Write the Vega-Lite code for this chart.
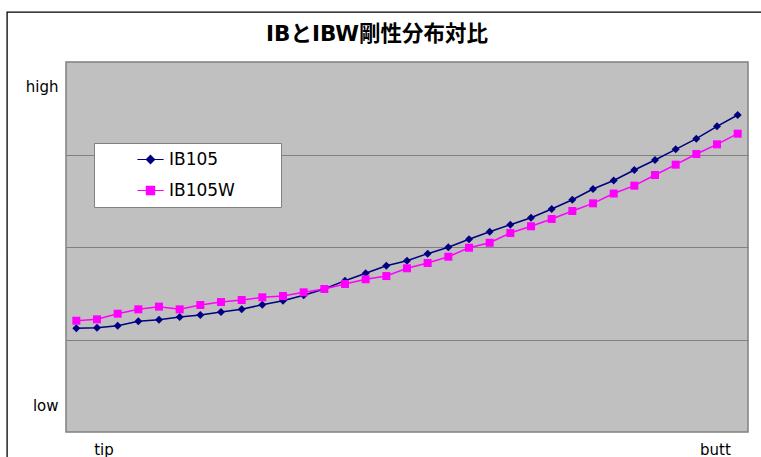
{
  "$schema": "https://vega.github.io/schema/vega-lite/v6.json",
  "width": 682,
  "height": 370,
  "autosize": "none",
  "padding": {"left": 66, "top": 62, "right": 13, "bottom": 25},
  "background": "white",
  "title": {"text": "IBとIBW剛性分布対比", "font": "DejaVu Sans, Noto Sans CJK JP", "fontSize": 21.5, "fontWeight": "bold", "color": "black", "anchor": "middle", "frame": "group", "dx": -30, "offset": -34.5},
  "config": {
    "view": {"fill": "#C0C0C0", "stroke": "#808080", "strokeWidth": 1.5}
  },
  "datasets": {
    "curve": [
      {"i": 0, "series": "IB105", "v": 1.121}, {"i": 1, "series": "IB105", "v": 1.128}, {"i": 2, "series": "IB105", "v": 1.149}, {"i": 3, "series": "IB105", "v": 1.197},
      {"i": 4, "series": "IB105", "v": 1.214}, {"i": 5, "series": "IB105", "v": 1.243}, {"i": 6, "series": "IB105", "v": 1.265}, {"i": 7, "series": "IB105", "v": 1.297},
      {"i": 8, "series": "IB105", "v": 1.326}, {"i": 9, "series": "IB105", "v": 1.376}, {"i": 10, "series": "IB105", "v": 1.419}, {"i": 11, "series": "IB105", "v": 1.478},
      {"i": 12, "series": "IB105", "v": 1.546}, {"i": 13, "series": "IB105", "v": 1.636}, {"i": 14, "series": "IB105", "v": 1.716}, {"i": 15, "series": "IB105", "v": 1.798},
      {"i": 16, "series": "IB105", "v": 1.852}, {"i": 17, "series": "IB105", "v": 1.928}, {"i": 18, "series": "IB105", "v": 1.997}, {"i": 19, "series": "IB105", "v": 2.083},
      {"i": 20, "series": "IB105", "v": 2.165}, {"i": 21, "series": "IB105", "v": 2.241}, {"i": 22, "series": "IB105", "v": 2.317}, {"i": 23, "series": "IB105", "v": 2.411},
      {"i": 24, "series": "IB105", "v": 2.511}, {"i": 25, "series": "IB105", "v": 2.627}, {"i": 26, "series": "IB105", "v": 2.719}, {"i": 27, "series": "IB105", "v": 2.832},
      {"i": 28, "series": "IB105", "v": 2.941}, {"i": 29, "series": "IB105", "v": 3.056}, {"i": 30, "series": "IB105", "v": 3.171}, {"i": 31, "series": "IB105", "v": 3.305},
      {"i": 32, "series": "IB105", "v": 3.427},
      {"i": 0, "series": "IB105W", "v": 1.203}, {"i": 1, "series": "IB105W", "v": 1.218}, {"i": 2, "series": "IB105W", "v": 1.279}, {"i": 3, "series": "IB105W", "v": 1.326},
      {"i": 4, "series": "IB105W", "v": 1.355}, {"i": 5, "series": "IB105W", "v": 1.326}, {"i": 6, "series": "IB105W", "v": 1.373}, {"i": 7, "series": "IB105W", "v": 1.405},
      {"i": 8, "series": "IB105W", "v": 1.427}, {"i": 9, "series": "IB105W", "v": 1.456}, {"i": 10, "series": "IB105W", "v": 1.470}, {"i": 11, "series": "IB105W", "v": 1.510},
      {"i": 12, "series": "IB105W", "v": 1.546}, {"i": 13, "series": "IB105W", "v": 1.600}, {"i": 14, "series": "IB105W", "v": 1.651}, {"i": 15, "series": "IB105W", "v": 1.686},
      {"i": 16, "series": "IB105W", "v": 1.770}, {"i": 17, "series": "IB105W", "v": 1.827}, {"i": 18, "series": "IB105W", "v": 1.895}, {"i": 19, "series": "IB105W", "v": 1.992},
      {"i": 20, "series": "IB105W", "v": 2.046}, {"i": 21, "series": "IB105W", "v": 2.151}, {"i": 22, "series": "IB105W", "v": 2.224}, {"i": 23, "series": "IB105W", "v": 2.303},
      {"i": 24, "series": "IB105W", "v": 2.389}, {"i": 25, "series": "IB105W", "v": 2.472}, {"i": 26, "series": "IB105W", "v": 2.578}, {"i": 27, "series": "IB105W", "v": 2.663},
      {"i": 28, "series": "IB105W", "v": 2.778}, {"i": 29, "series": "IB105W", "v": 2.890}, {"i": 30, "series": "IB105W", "v": 3.005}, {"i": 31, "series": "IB105W", "v": 3.110},
      {"i": 32, "series": "IB105W", "v": 3.225}
    ],
    "frame": [
      {"x0": -3.35, "x1": 40, "y0": 4.54, "y1": -1}
    ]
  },
  "data": {"name": "curve"},
  "encoding": {
    "x": {
      "field": "i", "type": "quantitative",
      "scale": {"domain": [-0.5, 32.5], "nice": false, "zero": false},
      "axis": {"values": [1.31, 30.9], "labelExpr": "datum.value < 10 ? 'tip' : 'butt'", "ticks": false, "domain": false, "grid": false, "title": null, "labelFont": "DejaVu Sans", "labelFontSize": 15, "labelColor": "black", "labelPadding": 10, "labelFlush": false}
    },
    "y": {
      "field": "v", "type": "quantitative",
      "scale": {"domain": [0, 4], "nice": false},
      "axis": {
        "values": [0.29, 1, 2, 3, 3.73],
        "labelExpr": "datum.value > 3.5 ? 'high' : (datum.value < 0.5 ? 'low' : '')",
        "ticks": false, "domain": false, "grid": true,
        "gridColor": "#808080", "gridWidth": 1,
        "gridOpacity": {"condition": {"test": "datum.value > 0.5 && datum.value < 3.5", "value": 1}, "value": 0},
        "title": null, "labelFont": "DejaVu Sans", "labelFontSize": 15, "labelColor": "black", "labelPadding": 8
      }
    }
  },
  "layer": [
    {
      "data": {"name": "frame"},
      "mark": {"type": "rect", "filled": false, "stroke": "black", "strokeWidth": 1.3, "clip": false},
      "encoding": {
        "x": {"field": "x0", "type": "quantitative"},
        "x2": {"field": "x1"},
        "y": {"field": "y0", "type": "quantitative"},
        "y2": {"field": "y1"}
      }
    },
    {
      "mark": {"type": "line", "strokeWidth": 1.5},
      "encoding": {
        "color": {
          "field": "series", "type": "nominal",
          "scale": {"domain": ["IB105", "IB105W"], "range": ["#000080", "#FF00FF"]},
          "legend": {
            "title": null,
            "orient": "none", "legendX": 28, "legendY": 81,
            "fillColor": "white", "strokeColor": "#808080", "padding": 8,
            "symbolOffset": 40, "symbolSize": 225, "labelOffset": 10,
            "labelFont": "DejaVu Sans", "labelFontSize": 17, "labelColor": "black", "rowPadding": 13,
            "labelExpr": "datum.label + '\u2800\u2800\u2800'",
            "encode": {"symbols": {"update": {
              "shape": {"signal": "datum.value === 'IB105' ? 'M-1.75,0H1.75M0,-0.55L0.55,0L0,0.55L-0.55,0Z' : 'M-1.75,0H1.75M-0.55,-0.55H0.55V0.55H-0.55Z'"},
              "fill": {"signal": "datum.value === 'IB105' ? '#000080' : '#FF00FF'"},
              "stroke": {"signal": "datum.value === 'IB105' ? '#000080' : '#FF00FF'"},
              "strokeWidth": {"value": 1.2},
              "opacity": {"value": 1}
            }}}
          }
        }
      }
    },
    {
      "transform": [{"filter": "datum.series === 'IB105'"}],
      "mark": {"type": "point", "filled": true, "shape": "diamond", "size": 64, "opacity": 1, "color": "#000080"}
    },
    {
      "transform": [{"filter": "datum.series === 'IB105W'"}],
      "mark": {"type": "point", "filled": true, "shape": "square", "size": 64, "opacity": 1, "color": "#FF00FF"}
    }
  ]
}
